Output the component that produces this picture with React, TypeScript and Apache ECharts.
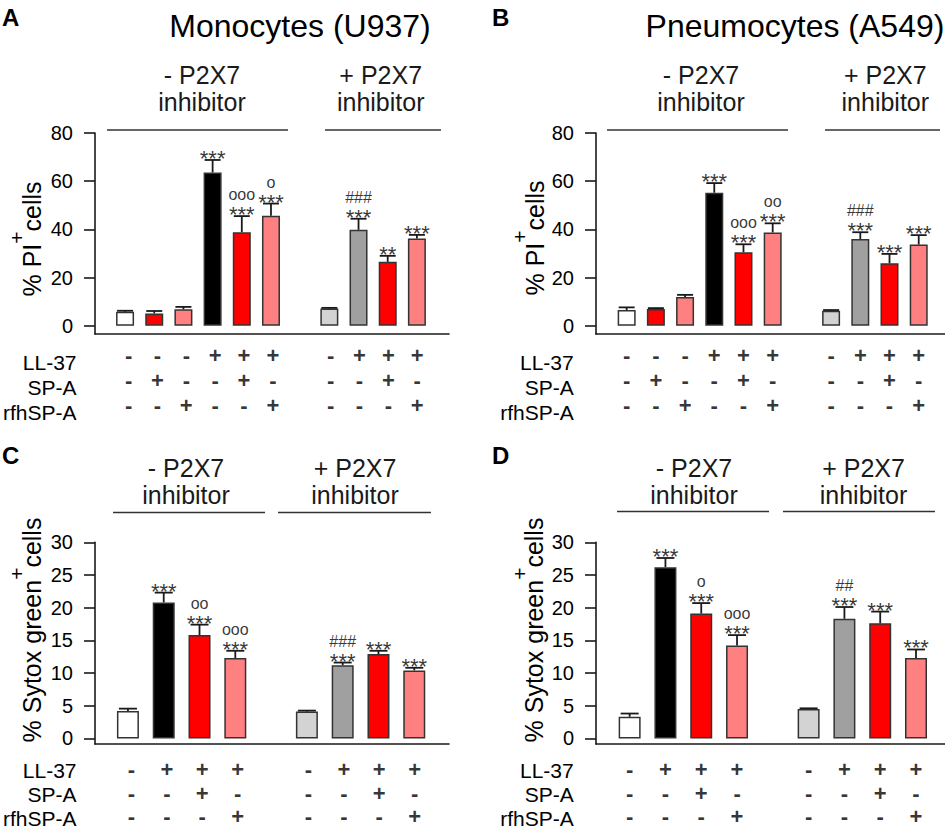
import React, { useEffect, useRef } from "react";
import * as echarts from "echarts";

// ---------- DATA ----------
const slotsAB = [0, 1, 2, 3, 4, 5, 7, 8, 9, 10];
const slotsCD = [0, 1, 2, 3, 5, 6, 7, 8];

const colorsAB = ["#ffffff", "#ff0000", "#ff8080", "#000000", "#ff0000", "#ff8080", "#d3d3d3", "#a0a0a0", "#ff0000", "#ff8080"];
const colorsCD = ["#ffffff", "#000000", "#ff0000", "#ff8080", "#d3d3d3", "#a0a0a0", "#ff0000", "#ff8080"];

// Panel A: Monocytes (U937), % PI+ cells
const meanA = [5.8, 5.1, 6.8, 63.6, 38.8, 45.6, 7.1, 39.8, 26.5, 36.2];
const semA = [0.4, 1.0, 1.0, 5.2, 6.7, 5.1, 0.3, 4.6, 2.5, 1.5];
const starsA = ["", "", "", "***", "***", "***", "", "***", "**", "***"];
const marksA = ["", "", "", "", "ooo", "o", "", "###", "", ""];

// Panel B: Pneumocytes (A549), % PI+ cells
const meanB = [6.5, 6.9, 11.9, 55.2, 30.5, 38.7, 6.2, 36.0, 25.9, 33.7];
const semB = [1.1, 0.4, 0.9, 4.0, 3.3, 3.8, 0.3, 2.8, 3.9, 3.9];
const starsB = ["", "", "", "***", "***", "***", "", "***", "***", "***"];
const marksB = ["", "", "", "", "ooo", "oo", "", "###", "", ""];

// Panel C: Monocytes, % Sytox green+ cells
const meanC = [4.2, 20.8, 15.8, 12.3, 4.1, 11.2, 12.9, 10.4];
const semC = [0.35, 1.5, 1.6, 1.1, 0.15, 0.4, 0.5, 0.4];
const starsC = ["", "***", "***", "***", "", "***", "***", "***"];
const marksC = ["", "", "oo", "ooo", "", "###", "", ""];

// Panel D: Pneumocytes, % Sytox green+ cells
const meanD = [3.3, 26.2, 19.1, 14.2, 4.5, 18.3, 17.6, 12.3];
const semD = [0.5, 1.4, 1.6, 1.6, 0.1, 1.8, 1.8, 1.3];
const starsD = ["", "***", "***", "***", "", "***", "***", "***"];
const marksD = ["", "", "o", "ooo", "", "##", "", ""];

// Treatment tables
const rowNames = ["LL-37", "SP-A", "rfhSP-A"];
const ll37AB = ["-", "-", "-", "+", "+", "+", "-", "+", "+", "+"];
const spaAB = ["-", "+", "-", "-", "+", "-", "-", "-", "+", "-"];
const rfhAB = ["-", "-", "+", "-", "-", "+", "-", "-", "-", "+"];
const ll37CD = ["-", "+", "+", "+", "-", "+", "+", "+"];
const spaCD = ["-", "-", "+", "-", "-", "-", "+", "-"];
const rfhCD = ["-", "-", "-", "+", "-", "-", "-", "+"];

const ticksPI = [0, 20, 40, 60, 80];
const ticksSytox = [0, 5, 10, 15, 20, 25, 30];

const panelLetters = ["A", "B", "C", "D"];
const cellTitles = ["Monocytes (U937)", "Pneumocytes (A549)"];
const groupHeaders = ["- P2X7\ninhibitor", "+ P2X7\ninhibitor"];
const yNamePI = "PI";
const yNameSytox = "Sytox green";

// ---------- LAYOUT ----------
const FONT = "'Liberation Sans', Arial, Helvetica, sans-serif";
const INK = "#1a1a1a";

const panels = [
  {
    grid: { left: 95, top: 133, width: 354, height: 201 },
    table: { left: 95, top: 349.9, width: 354, height: 75.6 }, signOffset: -7,
    xMin: -1.03, xMax: 11.1, yMin: -3.45, yMax: 80, ticks: ticksPI,
    slots: slotsAB, colors: colorsAB, mean: meanA, sem: semA, stars: starsA, marks: marksA,
    rows: [ll37AB, spaAB, rfhAB],
    barWidth: 18, capW: 16, yName: yNamePI,
    letter: [2, 17], title: [300, 26], titleText: cellTitles[0],
    headers: [[202, 88.5], [380.7, 88.5]], lines: [[107, 288], [325, 441]], lineY: 130,
    yNamePos: [44, 239],
  },
  {
    grid: { left: 596, top: 133, width: 349, height: 201 },
    table: { left: 596, top: 349.9, width: 349, height: 75.6 }, signOffset: -7,
    xMin: -1.05, xMax: 10.9, yMin: -3.45, yMax: 80, ticks: ticksPI,
    slots: slotsAB, colors: colorsAB, mean: meanB, sem: semB, stars: starsB, marks: marksB,
    rows: [ll37AB, spaAB, rfhAB],
    barWidth: 18, capW: 16, yName: yNamePI,
    letter: [492, 17], title: [795, 26], titleText: cellTitles[1],
    headers: [[701, 88.5], [885.3, 88.5]], lines: [[607, 788], [825, 940]], lineY: 130,
    yNamePos: [547, 238],
  },
  {
    grid: { left: 95, top: 542.3, width: 354, height: 201.7 },
    table: { left: 95, top: 759, width: 354, height: 76.5 }, signOffset: -1.5,
    xMin: -0.92, xMax: 8.97, yMin: -0.86, yMax: 30, ticks: ticksSytox,
    slots: slotsCD, colors: colorsCD, mean: meanC, sem: semC, stars: starsC, marks: marksC,
    rows: [ll37CD, spaCD, rfhCD],
    barWidth: 22, capW: 18, yName: yNameSytox,
    letter: [2, 455], title: null, titleText: "",
    headers: [[186, 481.2], [355, 481.2]], lines: [[113, 265], [278, 431]], lineY: 512.5,
    yNamePos: [44, 630],
  },
  {
    grid: { left: 596, top: 542.3, width: 349, height: 201.7 },
    table: { left: 596, top: 759, width: 349, height: 76.5 }, signOffset: -1.5,
    xMin: -0.94, xMax: 8.81, yMin: -0.86, yMax: 30, ticks: ticksSytox,
    slots: slotsCD, colors: colorsCD, mean: meanD, sem: semD, stars: starsD, marks: marksD,
    rows: [ll37CD, spaCD, rfhCD],
    barWidth: 22, capW: 18, yName: yNameSytox,
    letter: [492, 455], title: null, titleText: "",
    headers: [[694, 481.2], [863.5, 481.2]], lines: [[617, 769], [783, 935]], lineY: 511.5,
    yNamePos: [546.5, 630],
  },
];

function buildOption() {
  const grids: any[] = [];
  const xAxes: any[] = [];
  const yAxes: any[] = [];
  const series: any[] = [];
  const graphics: any[] = [];

  // main plot grids/axes: index 0..3 ; table grids/axes: index 4..7
  panels.forEach((p, pi) => {
    grids[pi] = { ...p.grid, containLabel: false };
    grids[4 + pi] = { ...p.table, containLabel: false };

    xAxes[pi] = {
      type: "value", gridIndex: pi, min: p.xMin, max: p.xMax, position: "bottom",
      axisLine: { show: true, onZero: false, lineStyle: { color: INK, width: 1.6 } },
      axisTick: { show: false }, axisLabel: { show: false }, splitLine: { show: false },
    };
    xAxes[4 + pi] = {
      type: "value", gridIndex: 4 + pi, min: p.xMin, max: p.xMax, show: false,
      axisLine: { onZero: false }, splitLine: { show: false },
    };
    yAxes[pi] = {
      type: "value", gridIndex: pi, min: p.yMin, max: p.yMax,
      axisLine: { show: true, onZero: false, lineStyle: { color: INK, width: 1.6 } },
      axisTick: { show: true, inside: false, length: 11, customValues: p.ticks, lineStyle: { color: INK, width: 1.6 } },
      axisLabel: { show: true, customValues: p.ticks, fontSize: 20, margin: 22, color: "#000", fontFamily: FONT },
      splitLine: { show: false },
    };
    yAxes[4 + pi] = {
      type: "category", gridIndex: 4 + pi, data: rowNames, inverse: true,
      axisLine: { show: false, onZero: false }, axisTick: { show: false }, splitLine: { show: false },
      axisLabel: { show: true, interval: 0, hideOverlap: false, fontSize: 21, lineHeight: 18, margin: 22.3, color: "#000", fontFamily: FONT },
    };

    series.push({
      type: "bar", xAxisIndex: pi, yAxisIndex: pi, barWidth: p.barWidth, z: 2,
      itemStyle: { borderColor: "#333", borderWidth: 1.5 },
      data: p.slots.map((s, i) => ({ value: [s, p.mean[i]], itemStyle: { color: p.colors[i] } })),
    });
    series.push({
      type: "custom", xAxisIndex: pi, yAxisIndex: pi, z: 3,
      data: p.slots.map((s, i) => [s, p.mean[i], p.mean[i] + p.sem[i]]),
      renderItem: (params: any, api: any) => {
        const x = api.value(0);
        const p0 = api.coord([x, api.value(1)]);
        const p1 = api.coord([x, api.value(2)]);
        const h = p.capW / 2;
        const st = { stroke: INK, lineWidth: 1.8 };
        return {
          type: "group",
          children: [
            { type: "line", shape: { x1: p0[0], y1: p0[1], x2: p1[0], y2: p1[1] }, style: st },
            { type: "line", shape: { x1: p1[0] - h, y1: p1[1], x2: p1[0] + h, y2: p1[1] }, style: st },
          ],
        };
      },
    });
    series.push({
      type: "scatter", xAxisIndex: pi, yAxisIndex: pi, z: 4, symbolSize: 0,
      data: p.slots.map((s, i) => [s, p.mean[i] + p.sem[i]]),
      label: {
        show: true, position: "top", distance: -6.5,
        formatter: (prm: any) => {
          const i = prm.dataIndex;
          const m = p.marks[i];
          const s = p.stars[i];
          return (m ? `{o|${m}}\n` : "") + (s ? `{a|${s}}` : "");
        },
        rich: {
          a: { fontSize: 22, lineHeight: 16, color: "#000", fontFamily: FONT },
          o: { fontSize: 16, lineHeight: 24, color: "#000", fontFamily: FONT },
        },
      },
    });
    // +/- treatment table
    const tableData: any[] = [];
    p.rows.forEach((signs, ri) => {
      p.slots.forEach((s, i) => tableData.push({ value: [s, ri], sign: signs[i] }));
    });
    series.push({
      type: "scatter", xAxisIndex: 4 + pi, yAxisIndex: 4 + pi, symbolSize: 0, z: 4,
      data: tableData,
      label: {
        show: true, position: "inside", offset: [0, p.signOffset],
        formatter: (prm: any) => prm.data.sign,
        fontSize: 22, lineHeight: 16, fontWeight: "bold", color: "#000", fontFamily: FONT,
      },
    });

    // graphics: letter, title, headers, lines, y name
    graphics.push({
      type: "text", x: p.letter[0], y: p.letter[1],
      style: { text: panelLetters[pi], fontSize: 24, fontWeight: "bold", fontFamily: FONT, fill: "#000", align: "left", verticalAlign: "middle" },
    });
    if (p.title) {
      graphics.push({
        type: "text", x: p.title[0], y: p.title[1],
        style: { text: p.titleText, fontSize: 32, fontFamily: FONT, fill: "#000", align: "center", verticalAlign: "middle" },
      });
    }
    p.headers.forEach((h, hi) => {
      graphics.push({
        type: "text", x: h[0], y: h[1],
        style: { text: groupHeaders[hi], fontSize: 25, lineHeight: 27, fontFamily: FONT, fill: INK, align: "center", verticalAlign: "middle" },
      });
    });
    p.lines.forEach((l) => {
      graphics.push({
        type: "line", shape: { x1: l[0], y1: p.lineY, x2: l[1], y2: p.lineY },
        style: { stroke: "#333", lineWidth: 1.5 },
      });
    });
    graphics.push({
      type: "text", x: p.yNamePos[0], y: p.yNamePos[1], rotation: Math.PI / 2,
      style: {
        text: `{n|% ${p.yName}}{s|+}{n|cells}`,
        align: "center", verticalAlign: "bottom", fill: "#000",
        rich: {
          n: { fontSize: 25, lineHeight: 38, fontFamily: FONT, fill: "#000", verticalAlign: "bottom" },
          s: { fontSize: 21, lineHeight: 38, fontFamily: FONT, fill: "#000", verticalAlign: "top" },
        },
      },
    });
  });

  return {
    animation: false,
    backgroundColor: "#ffffff",
    textStyle: { fontFamily: FONT },
    grid: grids,
    xAxis: xAxes,
    yAxis: yAxes,
    series,
    graphic: { elements: graphics },
  };
}

export default function App() {
  const ref = useRef<HTMLDivElement>(null);
  useEffect(() => {
    if (!ref.current) return;
    const chart = echarts.init(ref.current, undefined, { renderer: "svg" });
    chart.setOption(buildOption() as any);
    return () => chart.dispose();
  }, []);
  return (
    <div
      ref={ref}
      style={{ position: "fixed", left: 0, top: 0, width: 945, height: 830, background: "#fff" }}
    />
  );
}
